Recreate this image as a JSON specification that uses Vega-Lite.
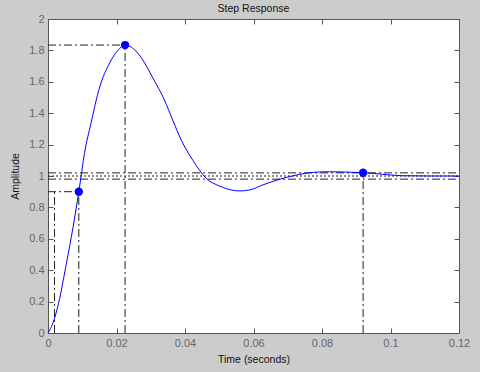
{
  "$schema": "https://vega.github.io/schema/vega-lite/v6.json",
  "width": 411,
  "height": 314,
  "autosize": {"type": "none"},
  "padding": {"left": 48, "top": 19, "right": 21, "bottom": 39},
  "background": "#cccccc",
  "title": {"text": "Step Response", "fontSize": 10.5, "fontWeight": "normal", "color": "#111111", "font": "Liberation Sans", "anchor": "middle", "offset": -1},
  "config": {
    "font": "Liberation Sans",
    "view": {"fill": "white", "stroke": "#555555", "strokeWidth": 1},
    "axis": {
      "grid": false,
      "domain": false,
      "tickColor": "#555555",
      "tickSize": -5,
      "labelFont": "Liberation Sans",
      "labelFontSize": 11,
      "labelColor": "#666666",
      "labelPadding": 9,
      "labelFlush": false,
      "labelOverlap": false,
      "labelBound": false,
      "titleFont": "Liberation Sans",
      "titleFontSize": 10.5,
      "titleFontWeight": "normal",
      "titleColor": "#111111"
    }
  },
  "datasets": {
    "curve": [
      {"t": 0, "y": 0},
      {"t": 0.001, "y": 0.04},
      {"t": 0.002, "y": 0.1},
      {"t": 0.0034, "y": 0.22},
      {"t": 0.005, "y": 0.4},
      {"t": 0.0068, "y": 0.61},
      {"t": 0.009, "y": 0.9},
      {"t": 0.0107, "y": 1.15},
      {"t": 0.0126, "y": 1.34},
      {"t": 0.015, "y": 1.56},
      {"t": 0.018, "y": 1.72},
      {"t": 0.0204, "y": 1.8},
      {"t": 0.0225, "y": 1.834},
      {"t": 0.025, "y": 1.81},
      {"t": 0.0275, "y": 1.745},
      {"t": 0.0306, "y": 1.625},
      {"t": 0.034, "y": 1.484},
      {"t": 0.0364, "y": 1.357},
      {"t": 0.0389, "y": 1.229},
      {"t": 0.0423, "y": 1.1},
      {"t": 0.0462, "y": 0.985},
      {"t": 0.0501, "y": 0.936},
      {"t": 0.0535, "y": 0.911},
      {"t": 0.056, "y": 0.905},
      {"t": 0.0589, "y": 0.911},
      {"t": 0.0627, "y": 0.943},
      {"t": 0.0676, "y": 0.979},
      {"t": 0.0725, "y": 1.006},
      {"t": 0.0774, "y": 1.023},
      {"t": 0.0822, "y": 1.027},
      {"t": 0.087, "y": 1.025},
      {"t": 0.092, "y": 1.021},
      {"t": 0.0968, "y": 1.013},
      {"t": 0.1032, "y": 1.002},
      {"t": 0.1114, "y": 1.0},
      {"t": 0.12, "y": 1.0}
    ],
    "points": [
      {"t": 0.009, "y": 0.9},
      {"t": 0.0225, "y": 1.834},
      {"t": 0.092, "y": 1.021}
    ],
    "dashdot": [
      {"t": 0.0019, "t2": 0.0019, "y": 0, "y2": 0.9},
      {"t": 0.009, "t2": 0.009, "y": 0, "y2": 0.9},
      {"t": 0.0225, "t2": 0.0225, "y": 0, "y2": 1.834},
      {"t": 0.092, "t2": 0.092, "y": 0, "y2": 1.021},
      {"t": 0, "t2": 0.0225, "y": 1.834, "y2": 1.834},
      {"t": 0, "t2": 0.009, "y": 0.9, "y2": 0.9},
      {"t": 0, "t2": 0.12, "y": 1.02, "y2": 1.02},
      {"t": 0, "t2": 0.12, "y": 0.98, "y2": 0.98}
    ],
    "steady": [
      {"t": 0, "t2": 0.12, "y": 1, "y2": 1}
    ]
  },
  "layer": [
    {
      "data": {"name": "dashdot"},
      "mark": {"type": "rule", "color": "#222222", "strokeWidth": 1, "strokeDash": [8, 3, 2, 3]},
      "encoding": {
        "x": {"field": "t", "type": "quantitative", "scale": {"domain": [0, 0.12]},
              "axis": {"orient": "top", "labels": false, "title": null, "values": [0, 0.02, 0.04, 0.06, 0.08, 0.1, 0.12]}},
        "x2": {"field": "t2"},
        "y": {"field": "y", "type": "quantitative", "scale": {"domain": [0, 2]},
              "axis": {"orient": "right", "labels": false, "title": null, "values": [0, 0.2, 0.4, 0.6, 0.8, 1, 1.2, 1.4, 1.6, 1.8, 2]}},
        "y2": {"field": "y2"}
      }
    },
    {
      "data": {"name": "steady"},
      "mark": {"type": "rule", "color": "#222222", "strokeWidth": 1, "strokeDash": [2, 2]},
      "encoding": {
        "x": {"field": "t", "type": "quantitative", "axis": null},
        "x2": {"field": "t2"},
        "y": {"field": "y", "type": "quantitative", "axis": null},
        "y2": {"field": "y2"}
      }
    },
    {
      "data": {"name": "curve"},
      "mark": {"type": "line", "color": "#0000ff", "strokeWidth": 1, "interpolate": "monotone"},
      "encoding": {
        "x": {"field": "t", "type": "quantitative",
              "axis": {"orient": "bottom", "title": "Time (seconds)", "labelExpr": "format(datum.value, '~g')", "values": [0, 0.02, 0.04, 0.06, 0.08, 0.1, 0.12], "titlePadding": 6}},
        "y": {"field": "y", "type": "quantitative",
              "axis": {"orient": "left", "title": "Amplitude", "labelExpr": "format(datum.value, '~g')", "values": [0, 0.2, 0.4, 0.6, 0.8, 1, 1.2, 1.4, 1.6, 1.8, 2], "titlePadding": 8}}
      }
    },
    {
      "data": {"name": "points"},
      "mark": {"type": "point", "filled": true, "color": "#0000ff", "opacity": 1, "size": 70},
      "encoding": {
        "x": {"field": "t", "type": "quantitative", "axis": null},
        "y": {"field": "y", "type": "quantitative", "axis": null}
      }
    }
  ],
  "resolve": {"axis": {"x": "independent", "y": "independent"}}
}
